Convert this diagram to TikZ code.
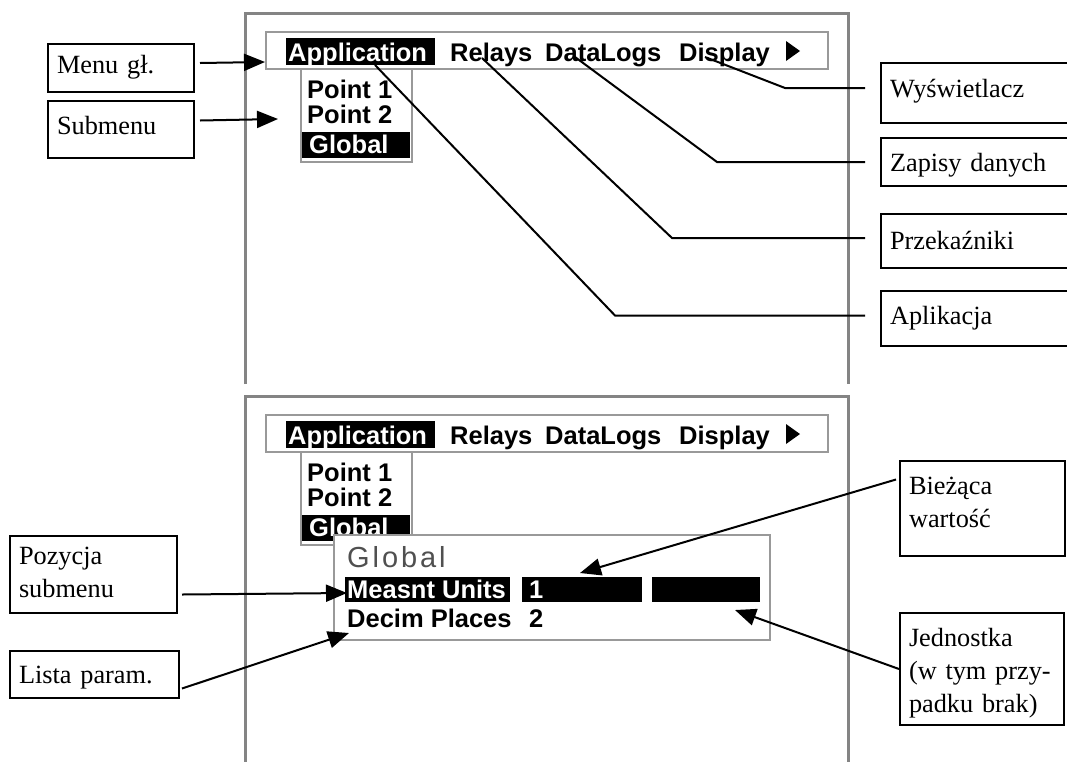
\documentclass[tikz,border=0pt]{standalone}
\usepackage{fontspec}
\setmainfont{Liberation Serif}
\setsansfont{Liberation Sans}
\usetikzlibrary{arrows.meta,positioning,calc}
\definecolor{framegrey}{HTML}{848484}
\definecolor{panelgrey}{HTML}{999999}
\definecolor{titlegrey}{HTML}{505050}
\newcommand{\lblfont}{\fontsize{26.3}{33}\selectfont}
\newcommand{\scrfont}{\sffamily\bfseries\fontsize{25.5}{30}\selectfont}
\newcommand{\titlefont}{\sffamily\fontsize{29}{34}\selectfont\addfontfeature{LetterSpace=10}}

\begin{document}
\begin{tikzpicture}[x=1pt, y=-1pt,
    labelbox/.style={draw, line width=2pt, anchor=north west, align=left, inner ysep=0pt, inner xsep=9pt, font=\lblfont},
    scrtext/.style={font=\scrfont, anchor=base west, inner sep=0pt},
    panel/.style={draw=panelgrey, line width=2pt, fill=white},
    screenframe/.style={framegrey, line width=3pt},
    callout/.style={line width=2pt},
    pointer/.style={line width=2pt, -{Triangle[length=21pt, width=17pt]}},
]
\useasboundingbox (0,0) rectangle (1067,761);
\clip (0,0) rectangle (1067,761);

% the two screens
\foreach \s/\dy in {a/0, b/383} {
  \begin{scope}[shift={(0,\dy)}]
    \draw[screenframe] (245,384) -- (245,13) -- (848,13) -- (848,384);
    % menu bar
    \draw[panel] (266,32) rectangle (828,69);
    \fill (286,38) rectangle (435,65);
    \node[scrtext, text=white] (app-\s) at (288,61) {Application};
    \node[scrtext] (rel-\s) at (450,61) {Relays};
    \node[scrtext] (dat-\s) at (545,61) {DataLogs};
    \node[scrtext] (dis-\s) at (679,61) {Display};
    \fill (786,41) -- (800,51) -- (786,61) -- cycle;
    % submenu
    \draw[panel] (301,69) rectangle (412,162);
    \node[scrtext] (pt1-\s) at (307,98) {Point 1};
    \node[scrtext] (pt2-\s) at (307,123) {Point 2};
    \fill (302,132) rectangle (410,158);
    \node[scrtext, text=white] (glb-\s) at (309,153) {Global};
  \end{scope}
}

% parameter window
\draw[panel] (334,535) rectangle (770,640);
\node[scrtext, font=\titlefont, text=titlegrey] (poptitle) at (347,567) {Global};
\fill (345,577) rectangle (510,602);
\fill (522,577) rectangle (642,602);
\fill (652,577) rectangle (760,602);
\node[scrtext, text=white] (meas) at (347,598) {Measnt Units};
\node[scrtext, text=white] (measval) at (529,598) {1};
\node[scrtext] (decim) at (347,627) {Decim Places};
\node[scrtext] (decimval) at (529,627) {2};

% labels
\node[labelbox, text width=128pt, text height=29pt, text depth=19pt] (menulbl) at (47,43) {Menu gł.};
\node[labelbox, text width=128pt, text height=33pt, text depth=24pt] (sublbl) at (47,100) {Submenu};
\node[labelbox, text width=182pt, text height=34pt, text depth=26pt] (wyslbl) at (880,62) {Wyświetlacz};
\node[labelbox, text width=182pt, text height=33pt, text depth=15pt] (zaplbl) at (880,137) {Zapisy danych};
\node[labelbox, text width=182pt, text height=35pt, text depth=19pt] (przlbl) at (880,213) {Przekaźniki};
\node[labelbox, text width=182pt, text height=33pt, text depth=22pt] (apllbl) at (880,290) {Aplikacja};
\node[labelbox, text width=149pt, text height=28pt, text depth=49pt] (pozlbl) at (9,535) {Pozycja\\submenu};
\node[labelbox, text width=151pt, text height=32pt, text depth=15pt] (listlbl) at (9,650) {Lista param.};
\node[labelbox, text width=147pt, text height=33pt, text depth=62pt] (curlbl) at (899,460) {Bieżąca\\wartość};
\node[labelbox, text width=146pt, text height=33pt, text depth=79pt] (unitlbl) at (899,612) {Jednostka\\(w tym przy-\\padku brak)};

% free ends on the screens
\coordinate (dispPt) at (705,57);
\coordinate (dataPt) at (575,57);
\coordinate (relPt) at (482,58);
\coordinate (appPt) at (375,65);
\coordinate (barPt) at (265,62);
\coordinate (subPt) at (278,119);
\coordinate (measPt) at (347,593);
\coordinate (decimPt) at (349,633);
\coordinate (valPt) at (580,573);
\coordinate (unitPt) at (735,610);

% callouts
\draw[callout] ([xshift=-15pt,yshift=5pt]wyslbl.west) -- ++(-80,0) -- (dispPt);
\draw[callout] ([xshift=-15pt]zaplbl.west) -- ++(-148,0) -- (dataPt);
\draw[callout] ([xshift=-15pt,yshift=3pt]przlbl.west) -- ++(-193,0) -- (relPt);
\draw[callout] ([xshift=-15pt,yshift=3pt]apllbl.west) -- ++(-250,0) -- (appPt);

\draw[pointer] ([xshift=5pt,yshift=5pt]menulbl.east) -- (barPt);
\draw[pointer] ([xshift=5pt,yshift=9pt]sublbl.east) -- (subPt);
\draw[pointer] ([xshift=4pt,yshift=-20pt]pozlbl.east) -- (measPt);
\draw[pointer] ([xshift=2pt,yshift=-14pt]listlbl.east) -- (decimPt);
\draw[pointer] ([xshift=-3pt,yshift=29pt]curlbl.west) -- (valPt);
\draw[pointer] (unitlbl.west) -- (unitPt);

\end{tikzpicture}
\end{document}
